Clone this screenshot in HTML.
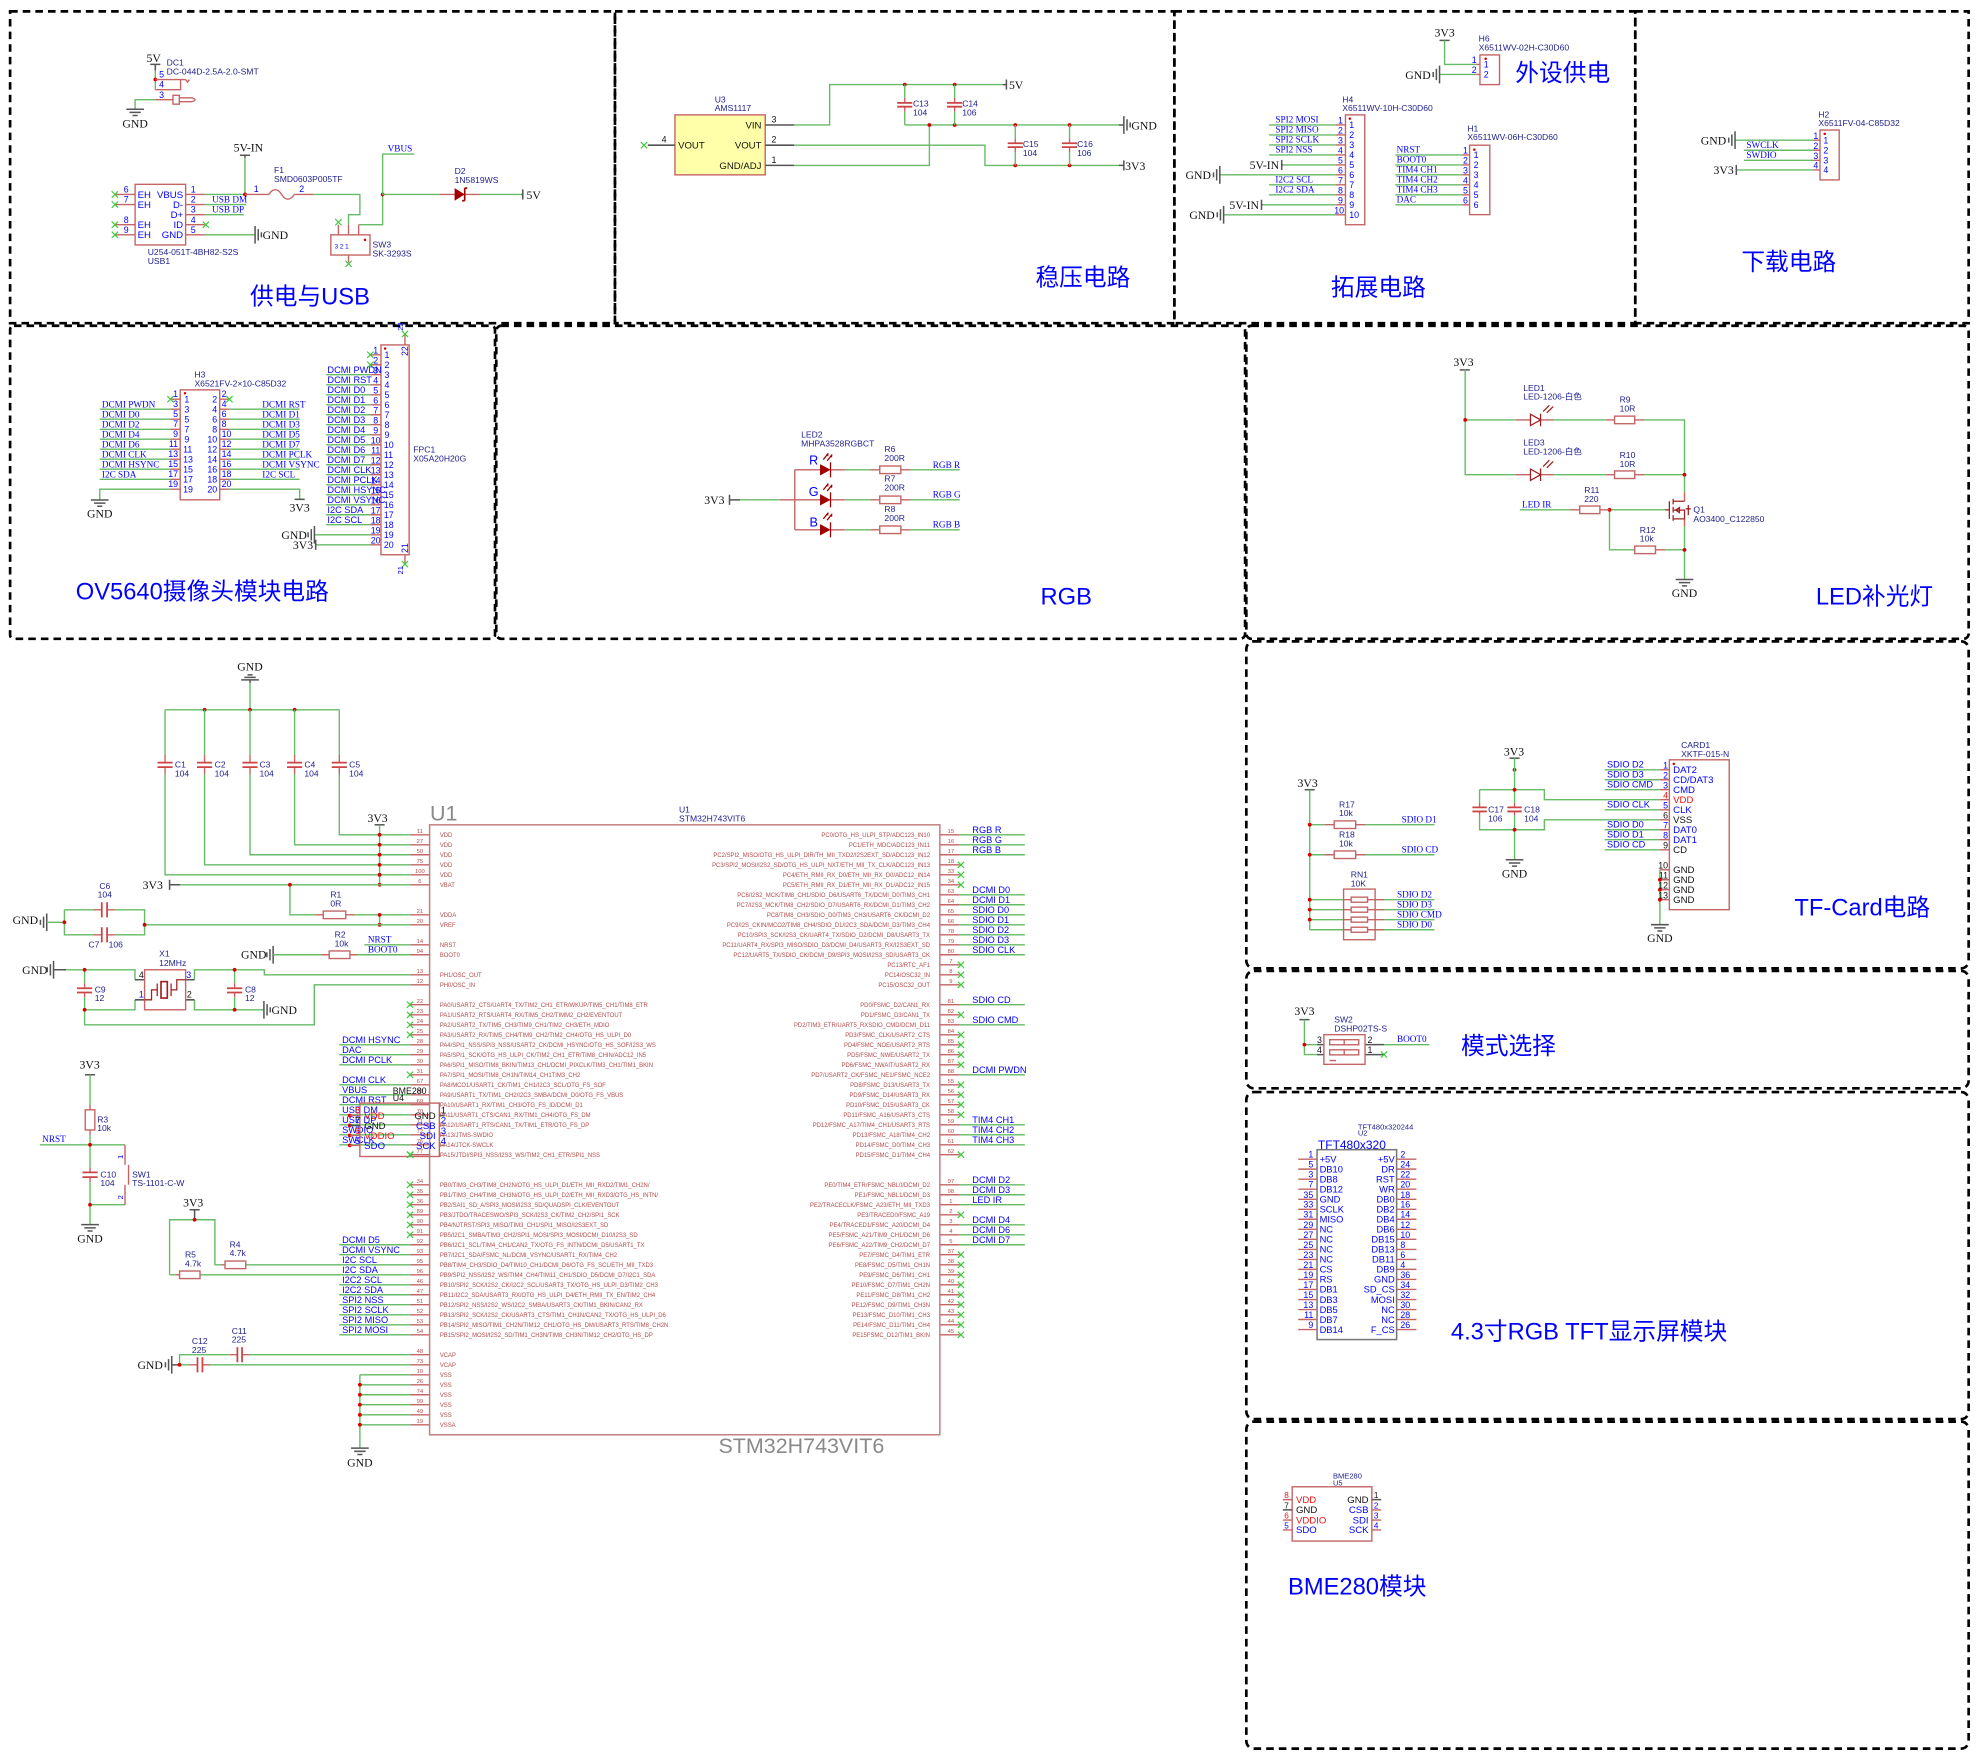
<!DOCTYPE html>
<html><head><meta charset="utf-8"><style>
html,body{margin:0;padding:0;background:#fff;}
svg{display:block}
text{font-family:"Liberation Sans","Noto Sans CJK SC",sans-serif;}
.n{font-family:"Liberation Serif","Noto Serif CJK SC",serif;font-size:7.3px;fill:#0000ff}
.d{font-size:6.8px;fill:#1e1e8c}
.pw{font-family:"Liberation Serif",serif;font-size:9.3px;fill:#111}
.pn{font-size:7px;fill:#0000ff}
.ti{font-size:18.8px;fill:#0000ff}
.f{font-size:4.7px;fill:#b24a4a}
.fe{font-size:4.7px;fill:#b24a4a;text-anchor:end}
.fn{font-size:4.6px;fill:#b24a4a;text-anchor:middle}
.ib{font-size:7.6px;fill:#0000ff}
.bk{font-size:7.6px;fill:#111}
.rd{font-size:7.6px;fill:#ee1111}
.w{stroke:#66bb66;stroke-width:1.1;fill:none}
.r{stroke:#c46464;stroke-width:1.1;fill:none}
.pl{stroke:#c44;stroke-width:1.4;fill:none}
.k{stroke:#555;stroke-width:1.2;fill:none}
.j{fill:#dd0000}
.fr{stroke:#000;stroke-width:2.1;fill:none;stroke-dasharray:6 4}
.e{text-anchor:end}
.m{text-anchor:middle}
</style></head><body>
<svg width="1980" height="1760" viewBox="0 0 1568 1394" preserveAspectRatio="none" xmlns="http://www.w3.org/2000/svg">
<defs><path id="X" d="M-2.5,-2.5L2.5,2.5M2.5,-2.5L-2.5,2.5" stroke="#33cc33" stroke-width="0.9" fill="none"/></defs>

<!-- FRAMES -->
<rect class="fr" x="8" y="9" width="479" height="247"/>
<rect class="fr" x="487" y="9" width="443" height="247"/>
<rect class="fr" x="930" y="9" width="365" height="247"/>
<rect class="fr" x="1295" y="9" width="264" height="247"/>
<rect class="fr" x="8" y="258" width="384" height="248" rx="3"/>
<rect class="fr" x="393" y="258" width="593" height="248" rx="4"/>
<rect class="fr" x="987" y="258" width="572" height="248" rx="4"/>
<rect class="fr" x="987" y="508" width="572" height="259" rx="6"/>
<rect class="fr" x="987" y="769" width="572" height="93" rx="6"/>
<rect class="fr" x="987" y="865" width="572" height="259" rx="6"/>
<rect class="fr" x="987" y="1126" width="572" height="259" rx="6"/>

<!-- TITLES -->
<text class="ti" x="198" y="241">供电与USB</text>
<text class="ti" x="820" y="226">稳压电路</text>
<text class="ti" x="1054" y="234">拓展电路</text>
<text class="ti" x="1379" y="214">下载电路</text>
<text class="ti" x="1200" y="64">外设供电</text>
<text class="ti" x="60" y="475">OV5640摄像头模块电路</text>
<text class="ti" x="824" y="479">RGB</text>
<text class="ti" x="1438" y="479">LED补光灯</text>
<text class="ti" x="1421" y="725">TF-Card电路</text>
<text class="ti" x="1157" y="835">模式选择</text>
<text class="ti" x="1149" y="1061">4.3寸RGB TFT显示屏模块</text>
<text class="ti" x="1020" y="1263">BME280模块</text>

<!-- ===== SECTION A ===== -->
<text class="pw" x="116" y="49">5V</text>
<path class="k" d="M119,51H127M123,51V56"/>
<path class="w" d="M123,56V71"/>
<circle class="j" cx="123" cy="63" r="1.5"/>
<path class="r" d="M123,63H147M143,63V71H123M147,63l1.5,2l1.5,-2"/>
<path class="w" d="M107,86V79H123"/>
<path class="r" d="M123,79H137M142,77.5H152Q157,79 152,80.5H142"/>
<rect class="r" x="137" y="75.5" width="5" height="7"/>
<text class="pn" x="126" y="61.5">5</text><text class="pn" x="126" y="69.5">4</text><text class="pn" x="126" y="77.5">3</text>
<path class="k" d="M100,86.5H114M102.5,89H111.5M105,91.5H109"/>
<text class="pw m" x="107" y="101">GND</text>
<text class="d" x="132" y="52">DC1</text><text class="d" x="132" y="59">DC-044D-2.5A-2.0-SMT</text>

<rect class="r" x="107" y="146" width="40" height="48"/>
<text class="ib" x="109" y="156.7">EH</text><text class="ib" x="109" y="164.7">EH</text><text class="ib" x="109" y="180.7">EH</text><text class="ib" x="109" y="188.7">EH</text>
<text class="ib e" x="145" y="156.7">VBUS</text><text class="ib e" x="145" y="164.7">D-</text><text class="ib e" x="145" y="172.7">D+</text><text class="ib e" x="145" y="180.7">ID</text><text class="ib e" x="145" y="188.7">GND</text>
<path class="r" d="M91,154H107M91,162H107M91,178H107M91,186H107M147,154H162M147,162H162M147,170H162M147,178H162M147,186H162"/>
<use href="#X" x="91" y="154"/><use href="#X" x="91" y="162"/><use href="#X" x="91" y="178"/><use href="#X" x="91" y="186"/><use href="#X" x="163" y="178"/>
<text class="pn m" x="100" y="152.5">6</text><text class="pn m" x="100" y="160.5">7</text><text class="pn m" x="100" y="176.5">8</text><text class="pn m" x="100" y="184.5">9</text>
<text class="pn m" x="153" y="152.5">1</text><text class="pn m" x="153" y="160.5">2</text><text class="pn m" x="153" y="168.5">3</text><text class="pn m" x="153" y="176.5">4</text><text class="pn m" x="153" y="184.5">5</text>
<path class="w" d="M162,154H194V125M162,162H195M162,170H193M162,186H202"/>
<path class="k" d="M190,123H198M194,123V125"/>
<text class="pw" x="185" y="120">5V-IN</text>
<circle class="j" cx="194" cy="154" r="1.5"/>
<text class="n" x="168" y="160.3">USB DM</text><text class="n" x="168" y="168.3">USB DP</text>
<path class="k" d="M202,179V193M204.5,181.5V190.5M207,184V188"/>
<text class="pw" x="208" y="189.5">GND</text>
<text class="d" x="117" y="202">U254-051T-4BH82-S2S</text><text class="d" x="117" y="209">USB1</text>
<path class="r" d="M194,154H213M233,154H248"/>
<path class="r" d="M213,154c3,-5 7,-5 10,0c3,5 7,5 10,0"/>
<text class="pn" x="201" y="152">1</text><text class="pn" x="237" y="152">2</text>
<text class="d" x="217" y="137">F1</text><text class="d" x="217" y="144">SMD0603P005TF</text>
<path class="w" d="M248,154H285V170H276V178M284,178H303V154"/>
<circle class="j" cx="303" cy="154" r="1.5"/>
<path class="w" d="M303,154V122H328M303,154H348M380,154H413"/>
<text class="n" x="307" y="120">VBUS</text>
<path class="r" d="M348,154H360M368,154H380"/>
<polygon points="360,149 360,159 368,154" fill="#a00000"/>
<path d="M368,149V159M368,149h2M368,159h-2" stroke="#a00000" stroke-width="1.3" fill="none"/>
<path class="k" d="M414,150V158M413,154H414"/>
<text class="pw" x="417" y="157.5">5V</text>
<text class="d" x="360" y="138">D2</text><text class="d" x="360" y="145">1N5819WS</text>
<rect class="r" x="262" y="186" width="31" height="16"/>
<path class="r" d="M268,178V186M276,178V186M284,178V186M276,202V208"/>
<use href="#X" x="268" y="176"/><use href="#X" x="276" y="209"/>
<circle class="j" cx="289" cy="190" r="1"/>
<text class="pn" x="265" y="197" style="font-size:5px">3 2 1</text>
<text class="d" x="295" y="196">SW3</text><text class="d" x="295" y="203">SK-3293S</text>

<!-- ===== SECTION B ===== -->
<rect x="534.5" y="91" width="71.5" height="47.5" fill="#ffffaa" stroke="#c46464" stroke-width="1.1"/>
<text class="d" x="566" y="81">U3</text><text class="d" x="566" y="88">AMS1117</text>
<path class="k" d="M513,115H534.5M606,99H629M606,115H629M606,131H629"/>
<use href="#X" x="510" y="115"/>
<text class="bk" x="524" y="113" style="font-size:7px">4</text>
<text class="bk" x="611" y="97" style="font-size:7px">3</text><text class="bk" x="611" y="113" style="font-size:7px">2</text><text class="bk" x="611" y="129" style="font-size:7px">1</text>
<text class="bk e" x="603" y="101.7">VIN</text><text class="bk" x="537" y="117.7">VOUT</text><text class="bk e" x="603" y="117.7">VOUT</text><text class="bk e" x="603" y="133.7">GND/ADJ</text>
<path class="w" d="M629,99H657V67H794M629,115H780V131H886M629,131H736V99M716.5,99H886"/>
<path class="k" d="M797,63V71M794,67H797"/><text class="pw" x="799" y="70.5">5V</text>
<path class="k" d="M886,99H890M890,92V106M892.5,94.5V103.5M895,97V101"/><text class="pw" x="896" y="102.5">GND</text>
<path class="k" d="M886,131H890M890,127V135"/><text class="pw" x="891" y="134.5">3V3</text>
<circle class="j" cx="716.5" cy="67" r="1.5"/><circle class="j" cx="756" cy="67" r="1.5"/><circle class="j" cx="736" cy="99" r="1.5"/><circle class="j" cx="756" cy="99" r="1.5"/><circle class="j" cx="804" cy="99" r="1.5"/><circle class="j" cx="847" cy="99" r="1.5"/><circle class="j" cx="804" cy="131" r="1.5"/><circle class="j" cx="847" cy="131" r="1.5"/>
<path class="w" d="M716.5,67V77.5M716.5,88.5V99M756,67V77.5M756,88.5V99M804,99V109.5M804,120.5V131M847,99V109.5M847,120.5V131"/>
<path class="r" d="M716.5,77.5V81.5M716.5,84.5V88.5M756,77.5V81.5M756,84.5V88.5M804,109.5V113.5M804,116.5V120.5M847,109.5V113.5M847,116.5V120.5"/>
<path class="pl" d="M710.5,81.5H722.5M710.5,84.5H722.5M750,81.5H762M750,84.5H762M798,113.5H810M798,116.5H810M841,113.5H853M841,116.5H853"/>
<text class="d" x="723" y="84.5">C13</text><text class="d" x="723" y="91.5">104</text>
<text class="d" x="762" y="84.5">C14</text><text class="d" x="762" y="91.5">106</text>
<text class="d" x="810" y="116.5">C15</text><text class="d" x="810" y="123.5">104</text>
<text class="d" x="853" y="116.5">C16</text><text class="d" x="853" y="123.5">106</text>

<!-- ===== SECTION C ===== -->
<text class="pw" x="1136" y="29">3V3</text>
<path class="k" d="M1140,32H1148"/>
<path class="w" d="M1144,32V51H1169M1140,59H1169"/>
<path class="r" d="M1169,51H1172M1169,59H1172"/>
<path class="k" d="M1140,52V66M1137.5,54.5V63.5M1135,57V61"/><text class="pw e" x="1133" y="62.5">GND</text>
<rect class="r" x="1172" y="43.5" width="15.5" height="23.5"/>
<circle class="j" cx="1176.5" cy="46.5" r="1"/>
<text class="pn" x="1175" y="53.5">1</text><text class="pn" x="1175" y="61.5">2</text>
<text class="pn" x="1165.5" y="50">1</text><text class="pn" x="1165.5" y="58">2</text>
<text class="d" x="1171" y="33">H6</text><text class="d" x="1171" y="40">X6511WV-02H-C30D60</text>

<rect class="r" x="1065.5" y="91" width="15.3" height="87"/>
<circle class="j" cx="1069" cy="94" r="1"/>
<text class="d" x="1063" y="81">H4</text><text class="d" x="1063" y="88">X6511WV-10H-C30D60</text>
<path class="w" d="M1005,99H1058M1005,106.9H1058M1005,114.8H1058M1005,122.7H1058M1016,130.6H1058M966,138.5H1058M1005,146.4H1058M1005,154.3H1058M1000,162.2H1058M969,170.1H1058"/>
<path class="r" d="M1058,99H1065.5M1058,106.9H1065.5M1058,114.8H1065.5M1058,122.7H1065.5M1058,130.6H1065.5M1058,138.5H1065.5M1058,146.4H1065.5M1058,154.3H1065.5M1058,162.2H1065.5M1058,170.1H1065.5"/>
<text class="n" x="1010" y="97.2">SPI2 MOSI</text><text class="n" x="1010" y="105.1">SPI2 MISO</text><text class="n" x="1010" y="113">SPI2 SCLK</text><text class="n" x="1010" y="120.9">SPI2 NSS</text><text class="n" x="1010" y="144.6">I2C2 SCL</text><text class="n" x="1010" y="152.5">I2C2 SDA</text>
<path class="k" d="M1015,126.6V134.6M1015,130.6H1016"/><text class="pw e" x="1013" y="133.8">5V-IN</text>
<path class="k" d="M966,131.5V145.5M963.5,134V143M961,136.5V140.5"/><text class="pw e" x="959" y="141.8">GND</text>
<path class="k" d="M999,158.2V166.2M999,162.2H1000"/><text class="pw e" x="997" y="165.4">5V-IN</text>
<path class="k" d="M969,163.1V177.1M966.5,165.6V174.6M964,168.1V172.1"/><text class="pw e" x="962" y="173.4">GND</text>
<text class="pn m" x="1061.5" y="98">1</text><text class="pn m" x="1061.5" y="105.9">2</text><text class="pn m" x="1061.5" y="113.8">3</text><text class="pn m" x="1061.5" y="121.7">4</text><text class="pn m" x="1061.5" y="129.6">5</text><text class="pn m" x="1061.5" y="137.5">6</text><text class="pn m" x="1061.5" y="145.4">7</text><text class="pn m" x="1061.5" y="153.3">8</text><text class="pn m" x="1061.5" y="161.2">9</text><text class="pn m" x="1060.5" y="169.1">10</text>
<text class="pn" x="1068.5" y="101.5">1</text><text class="pn" x="1068.5" y="109.4">2</text><text class="pn" x="1068.5" y="117.3">3</text><text class="pn" x="1068.5" y="125.2">4</text><text class="pn" x="1068.5" y="133.1">5</text><text class="pn" x="1068.5" y="141">6</text><text class="pn" x="1068.5" y="148.9">7</text><text class="pn" x="1068.5" y="156.8">8</text><text class="pn" x="1068.5" y="164.7">9</text><text class="pn" x="1068.5" y="172.6">10</text>

<rect class="r" x="1163.8" y="115" width="16" height="55"/>
<circle class="j" cx="1167.5" cy="118.5" r="1"/>
<text class="d" x="1162" y="104">H1</text><text class="d" x="1162" y="111">X6511WV-06H-C30D60</text>
<path class="w" d="M1105,122.7H1158M1105,130.6H1158M1105,138.5H1158M1105,146.4H1158M1105,154.3H1158M1105,162.2H1158"/>
<path class="r" d="M1158,122.7H1163.8M1158,130.6H1163.8M1158,138.5H1163.8M1158,146.4H1163.8M1158,154.3H1163.8M1158,162.2H1163.8"/>
<text class="n" x="1106" y="120.9">NRST</text><text class="n" x="1106" y="128.8">BOOT0</text><text class="n" x="1106" y="136.7">TIM4 CH1</text><text class="n" x="1106" y="144.6">TIM4 CH2</text><text class="n" x="1106" y="152.5">TIM4 CH3</text><text class="n" x="1106" y="160.4">DAC</text>
<text class="pn m" x="1160.5" y="121.7">1</text><text class="pn m" x="1160.5" y="129.6">2</text><text class="pn m" x="1160.5" y="137.5">3</text><text class="pn m" x="1160.5" y="145.4">4</text><text class="pn m" x="1160.5" y="153.3">5</text><text class="pn m" x="1160.5" y="161.2">6</text>
<text class="pn" x="1167" y="125.2">1</text><text class="pn" x="1167" y="133.1">2</text><text class="pn" x="1167" y="141">3</text><text class="pn" x="1167" y="148.9">4</text><text class="pn" x="1167" y="156.8">5</text><text class="pn" x="1167" y="164.7">6</text>

<!-- ===== SECTION D ===== -->
<rect class="r" x="1441.3" y="103" width="15.2" height="39.5"/>
<circle class="j" cx="1445" cy="106" r="1"/>
<text class="d" x="1440" y="93">H2</text><text class="d" x="1440" y="100">X6511FV-04-C85D32</text>
<path class="w" d="M1374,111H1436M1381,119H1436M1381,127H1436M1375,134.6H1436"/>
<path class="r" d="M1436,111H1441.3M1436,119H1441.3M1436,127H1441.3M1436,134.6H1441.3"/>
<path class="k" d="M1374,104V118M1371.5,106.5V115.5M1369,109V113"/><text class="pw e" x="1367" y="114.3">GND</text>
<path class="k" d="M1375,130.6V138.6"/><text class="pw e" x="1373" y="137.8">3V3</text>
<text class="n" x="1383" y="117.3">SWCLK</text><text class="n" x="1383" y="125.2">SWDIO</text>
<text class="pn m" x="1438" y="110">1</text><text class="pn m" x="1438" y="118">2</text><text class="pn m" x="1438" y="126">3</text><text class="pn m" x="1438" y="133.6">4</text>
<text class="pn" x="1444" y="113.5">1</text><text class="pn" x="1444" y="121.5">2</text><text class="pn" x="1444" y="129.5">3</text><text class="pn" x="1444" y="137.1">4</text>

<!-- ===== SECTION E (OV5640) ===== -->
<rect class="r" x="142.7" y="308.8" width="31.3" height="87.1"/>
<circle class="j" cx="146.5" cy="311.5" r="1"/>
<text class="d" x="154" y="299">H3</text><text class="d" x="154" y="306">X6521FV-2×10-C85D32</text>
<path class="r" d="M135,316.2H142.7M135,324.1H142.7M135,332H142.7M135,340H142.7M135,347.9H142.7M135,355.8H142.7M135,363.7H142.7M135,371.6H142.7M135,379.6H142.7M135,387.5H142.7M174,316.2H181.7M174,324.1H181.7M174,332H181.7M174,340H181.7M174,347.9H181.7M174,355.8H181.7M174,363.7H181.7M174,371.6H181.7M174,379.6H181.7M174,387.5H181.7"/>
<use href="#X" x="135" y="316.2"/><use href="#X" x="181.7" y="316.2"/>
<path class="w" d="M79,324.1H135M79,332H135M79,340H135M79,347.9H135M79,355.8H135M79,363.7H135M79,371.6H135M79,379.6H135M79,396V387.5H135M181.7,324.1H237.3M181.7,332H237.3M181.7,340H237.3M181.7,347.9H237.3M181.7,355.8H237.3M181.7,363.7H237.3M181.7,371.6H237.3M181.7,379.6H237.3M181.7,387.5H237.3V395"/>
<text class="n" x="80.7" y="322.6">DCMI PWDN</text><text class="n" x="80.7" y="330.5">DCMI D0</text><text class="n" x="80.7" y="338.5">DCMI D2</text><text class="n" x="80.7" y="346.4">DCMI D4</text><text class="n" x="80.7" y="354.3">DCMI D6</text><text class="n" x="80.7" y="362.2">DCMI CLK</text><text class="n" x="80.7" y="370.1">DCMI HSYNC</text><text class="n" x="80.7" y="378.1">I2C SDA</text>
<text class="n" x="207.7" y="322.6">DCMI RST</text><text class="n" x="207.7" y="330.5">DCMI D1</text><text class="n" x="207.7" y="338.5">DCMI D3</text><text class="n" x="207.7" y="346.4">DCMI D5</text><text class="n" x="207.7" y="354.3">DCMI D7</text><text class="n" x="207.7" y="362.2">DCMI PCLK</text><text class="n" x="207.7" y="370.1">DCMI VSYNC</text><text class="n" x="207.7" y="378.1">I2C SCL</text>
<path class="k" d="M72,396H86M74.5,398.5H83.5M77,401H81"/><text class="pw m" x="79" y="410">GND</text>
<path class="k" d="M233.3,395.5H241.3"/><text class="pw m" x="237.3" y="405">3V3</text>
<g class="pn">
<text class="e" x="141" y="314.5">1</text><text class="e" x="141" y="322.4">3</text><text class="e" x="141" y="330.3">5</text><text class="e" x="141" y="338.3">7</text><text class="e" x="141" y="346.2">9</text><text class="e" x="141" y="354.1">11</text><text class="e" x="141" y="362">13</text><text class="e" x="141" y="369.9">15</text><text class="e" x="141" y="377.9">17</text><text class="e" x="141" y="385.8">19</text>
<text x="146" y="318.7">1</text><text x="146" y="326.6">3</text><text x="146" y="334.5">5</text><text x="146" y="342.5">7</text><text x="146" y="350.4">9</text><text x="145" y="358.3">11</text><text x="145" y="366.2">13</text><text x="145" y="374.1">15</text><text x="145" y="382.1">17</text><text x="145" y="390">19</text>
<text class="e" x="172" y="318.7">2</text><text class="e" x="172" y="326.6">4</text><text class="e" x="172" y="334.5">6</text><text class="e" x="172" y="342.5">8</text><text class="e" x="172" y="350.4">10</text><text class="e" x="172" y="358.3">12</text><text class="e" x="172" y="366.2">14</text><text class="e" x="172" y="374.1">16</text><text class="e" x="172" y="382.1">18</text><text class="e" x="172" y="390">20</text>
<text x="175.5" y="314.5">2</text><text x="175.5" y="322.4">4</text><text x="175.5" y="330.3">6</text><text x="175.5" y="338.3">8</text><text x="175.5" y="346.2">10</text><text x="175.5" y="354.1">12</text><text x="175.5" y="362">14</text><text x="175.5" y="369.9">16</text><text x="175.5" y="377.9">18</text><text x="175.5" y="385.8">20</text>
</g>

<rect class="r" x="301.7" y="273.2" width="22.3" height="166.2"/>
<circle class="j" cx="305" cy="276" r="1"/>
<path class="r" d="M320.7,264.5V273.2M320.7,439.4V446.8"/>
<use href="#X" x="320.7" y="264.5"/><use href="#X" x="320.7" y="446.8"/>
<text class="pn" transform="translate(323,282) rotate(-90)">22</text>
<text class="pn" transform="translate(323,438) rotate(-90)">21</text>
<text class="pn" transform="translate(319,262) rotate(-90)" style="font-size:6px">22</text>
<text class="pn" transform="translate(319,455) rotate(-90)" style="font-size:6px">21</text>
<text class="d" x="327.3" y="358.5">FPC1</text><text class="d" x="327.3" y="365.5">X05A20H20G</text>
<path class="r" d="M293.3,281H301.7M293.3,288.9H301.7M293.3,296.8H301.7M293.3,304.8H301.7M293.3,312.7H301.7M293.3,320.6H301.7M293.3,328.5H301.7M293.3,336.4H301.7M293.3,344.4H301.7M293.3,352.3H301.7M293.3,360.2H301.7M293.3,368.1H301.7M293.3,376H301.7M293.3,384H301.7M293.3,391.9H301.7M293.3,399.8H301.7M293.3,407.7H301.7M293.3,415.6H301.7M293.3,423.6H301.7M293.3,431.5H301.7"/>
<use href="#X" x="293.3" y="281"/><use href="#X" x="293.3" y="288.9"/>
<path class="w" d="M258.3,296.8H293.3M258.3,304.8H293.3M258.3,312.7H293.3M258.3,320.6H293.3M258.3,328.5H293.3M258.3,336.4H293.3M258.3,344.4H293.3M258.3,352.3H293.3M258.3,360.2H293.3M258.3,368.1H293.3M258.3,376H293.3M258.3,384H293.3M258.3,391.9H293.3M258.3,399.8H293.3M258.3,407.7H293.3M258.3,415.6H293.3M249,423.6H293.3M250,431.5H293.3"/>
<g class="n">
<text x="259.3" y="295.3">DCMI PWDN</text><text x="259.3" y="303.3">DCMI RST</text><text x="259.3" y="311.2">DCMI D0</text><text x="259.3" y="319.1">DCMI D1</text><text x="259.3" y="327">DCMI D2</text><text x="259.3" y="334.9">DCMI D3</text><text x="259.3" y="342.9">DCMI D4</text><text x="259.3" y="350.8">DCMI D5</text><text x="259.3" y="358.7">DCMI D6</text><text x="259.3" y="366.6">DCMI D7</text><text x="259.3" y="374.5">DCMI CLK</text><text x="259.3" y="382.5">DCMI PCLK</text><text x="259.3" y="390.4">DCMI HSYNC</text><text x="259.3" y="398.3">DCMI VSYNC</text><text x="259.3" y="406.2">I2C SDA</text><text x="259.3" y="414.1">I2C SCL</text>
</g>
<path class="k" d="M249,416.6V430.6M246.5,419.1V428.1M244,421.6V425.6"/><text class="pw e" x="243" y="426.8">GND</text>
<path class="k" d="M250,427.5V435.5"/><text class="pw e" x="248" y="434.7">3V3</text>
<g class="pn">
<text class="m" x="297.5" y="280">1</text><text class="m" x="297.5" y="287.9">2</text><text class="m" x="297.5" y="295.8">3</text><text class="m" x="297.5" y="303.8">4</text><text class="m" x="297.5" y="311.7">5</text><text class="m" x="297.5" y="319.6">6</text><text class="m" x="297.5" y="327.5">7</text><text class="m" x="297.5" y="335.4">8</text><text class="m" x="297.5" y="343.4">9</text><text class="m" x="297.5" y="351.3">10</text><text class="m" x="297.5" y="359.2">11</text><text class="m" x="297.5" y="367.1">12</text><text class="m" x="297.5" y="375">13</text><text class="m" x="297.5" y="383">14</text><text class="m" x="297.5" y="390.9">15</text><text class="m" x="297.5" y="398.8">16</text><text class="m" x="297.5" y="406.7">17</text><text class="m" x="297.5" y="414.6">18</text><text class="m" x="297.5" y="422.6">19</text><text class="m" x="297.5" y="430.5">20</text>
<text x="304.5" y="283.5">1</text><text x="304.5" y="291.4">2</text><text x="304.5" y="299.3">3</text><text x="304.5" y="307.3">4</text><text x="304.5" y="315.2">5</text><text x="304.5" y="323.1">6</text><text x="304.5" y="331">7</text><text x="304.5" y="338.9">8</text><text x="304.5" y="346.9">9</text><text x="304" y="354.8">10</text><text x="304" y="362.7">11</text><text x="304" y="370.6">12</text><text x="304" y="378.5">13</text><text x="304" y="386.5">14</text><text x="304" y="394.4">15</text><text x="304" y="402.3">16</text><text x="304" y="410.2">17</text><text x="304" y="418.1">18</text><text x="304" y="426.1">19</text><text x="304" y="434">20</text>
</g>

<!-- ===== SECTION F (RGB) ===== -->
<text class="pw" x="557.7" y="399">3V3</text>
<path class="k" d="M577.7,391.9V399.9M577.7,395.9H586"/>
<path class="w" d="M586,395.9H617.7"/>
<path class="r" d="M617.7,395.9H649.4M629.4,372.1V419.6M629.4,372.1H649.4M629.4,419.6H649.4M657.7,372.1H669.4M657.7,395.9H669.4M657.7,419.6H669.4M689.4,372.1H696.7M713.4,372.1H721M689.4,395.9H696.7M713.4,395.9H721M689.4,419.6H696.7M713.4,419.6H721"/>
<path class="w" d="M669.4,372.1H689.4M669.4,395.9H689.4M669.4,419.6H689.4M721,372.1H760M721,395.9H760M721,419.6H760"/>
<polygon points="649.4,367.6 649.4,376.6 657.7,372.1" fill="#a00000"/>
<polygon points="649.4,391.4 649.4,400.4 657.7,395.9" fill="#a00000"/>
<polygon points="649.4,415.1 649.4,424.1 657.7,419.6" fill="#a00000"/>
<path d="M657.7,366.1V378.1M657.7,389.9V401.9M657.7,413.6V425.6M652,364l4,-5M655,365l4,-5M652,388l4,-5M655,389l4,-5M652,411l4,-5M655,412l4,-5" stroke="#a00000" stroke-width="1" fill="none"/>
<path d="M656,359l0,2.5l-2,-1zM659,360l0,2.5l-2,-1zM656,383l0,2.5l-2,-1zM659,384l0,2.5l-2,-1zM656,406l0,2.5l-2,-1zM659,407l0,2.5l-2,-1z" fill="#a00000"/>
<rect class="r" x="696.7" y="369.1" width="16.7" height="6"/><rect class="r" x="696.7" y="392.9" width="16.7" height="6"/><rect class="r" x="696.7" y="416.6" width="16.7" height="6"/>
<text class="ib m" x="644.4" y="368" style="font-size:10px">R</text><text class="ib m" x="644.4" y="393" style="font-size:10px">G</text><text class="ib m" x="644.4" y="417" style="font-size:10px">B</text>
<text class="d" x="634.4" y="346.5">LED2</text><text class="d" x="634.4" y="353.5">MHPA3528RGBCT</text>
<text class="d" x="700.4" y="358">R6</text><text class="d" x="700.4" y="365">200R</text>
<text class="d" x="700.4" y="381.5">R7</text><text class="d" x="700.4" y="388.5">200R</text>
<text class="d" x="700.4" y="405.5">R8</text><text class="d" x="700.4" y="412.5">200R</text>
<text class="n" x="738.7" y="370.5">RGB R</text><text class="n" x="738.7" y="394.2">RGB G</text><text class="n" x="738.7" y="418">RGB B</text>

<!-- ===== SECTION G (LED) ===== -->
<text class="pw m" x="1159" y="290">3V3</text>
<path class="k" d="M1156,293H1164"/>
<path class="w" d="M1160.3,293V376H1200.3M1160.3,332.6H1200.3M1230.3,332.6H1272M1302,332.6H1334V390M1230.3,376H1272M1302,376H1334M1203.6,403.8H1243.6M1274.6,403.8H1318.6M1274.6,403.8V435.5H1294.6M1318.6,435.5H1334M1334,417V459"/>
<circle class="j" cx="1160.3" cy="332.6" r="1.5"/><circle class="j" cx="1334" cy="376" r="1.5"/><circle class="j" cx="1274.6" cy="403.8" r="1.5"/><circle class="j" cx="1334" cy="435.5" r="1.5"/>
<path class="r" d="M1200.3,332.6H1212M1220,332.6H1230.3M1272,332.6H1278.6M1294.6,332.6H1302M1200.3,376H1212M1220,376H1230.3M1272,376H1278.6M1294.6,376H1302M1243.6,403.8H1251M1267,403.8H1274.6M1311,435.5H1318.6M1334,390V397M1334,411V417"/>
<rect class="r" x="1278.6" y="329.6" width="16" height="6"/><rect class="r" x="1278.6" y="373" width="16" height="6"/><rect class="r" x="1251" y="400.8" width="16" height="6"/><rect class="r" x="1294.6" y="432.5" width="16.4" height="6"/>
<path d="M1212,328.1V337.1L1220,332.6ZM1220,327.6V337.6M1212,371.5V380.5L1220,376ZM1220,371V381M1222,326l5,-5M1225,327l5,-5M1222,369.5l5,-5M1225,370.5l5,-5" stroke="#a02020" stroke-width="1" fill="none"/>
<path d="M1318.6,403.8H1322M1322,397V411M1325,395V399.5M1325,401.5V406M1325,408V412.5M1325,397H1334M1325,411H1334M1325,404H1334V411M1327,404l3,-2v4zM1337,400V408M1335,403h4" stroke="#a02020" stroke-width="1" fill="none"/>
<path class="k" d="M1327,459H1341M1329.5,461.5H1338.5M1332,464H1336"/><text class="pw m" x="1334" y="473">GND</text>
<text class="n" x="1205.3" y="401.8">LED IR</text>
<text class="d" x="1206.3" y="309.5">LED1</text><text class="d" x="1206.3" y="316.5">LED-1206-白色</text>
<text class="d" x="1282.6" y="319">R9</text><text class="d" x="1282.6" y="326">10R</text>
<text class="d" x="1206.3" y="353">LED3</text><text class="d" x="1206.3" y="360">LED-1206-白色</text>
<text class="d" x="1282.6" y="362.8">R10</text><text class="d" x="1282.6" y="369.8">10R</text>
<text class="d" x="1254.6" y="390.5">R11</text><text class="d" x="1254.6" y="397.5">220</text>
<text class="d" x="1341" y="406">Q1</text><text class="d" x="1341" y="413.5">AO3400_C122850</text>
<text class="d" x="1298.6" y="422">R12</text><text class="d" x="1298.6" y="429">10k</text>

<!-- ===== SECTION H (TF) ===== -->
<text class="pw" x="1027.5" y="623.3">3V3</text>
<path class="k" d="M1033.2,625.5H1041.2"/>
<path class="w" d="M1037.2,625.5V736.4M1037.2,653.2H1049M1081,653.2H1136M1037.2,677H1049M1081,677H1136M1037.2,712.6H1064M1037.2,720.5H1064M1037.2,728.4H1064M1037.2,736.4H1064M1096,712.6H1136M1096,720.5H1136M1096,728.4H1136M1096,736.4H1136"/>
<circle class="j" cx="1037.2" cy="653.2" r="1.5"/><circle class="j" cx="1037.2" cy="677" r="1.5"/><circle class="j" cx="1037.2" cy="712.6" r="1.5"/><circle class="j" cx="1037.2" cy="720.5" r="1.5"/><circle class="j" cx="1037.2" cy="728.4" r="1.5"/>
<path class="r" d="M1049,653.2H1056.6M1073.5,653.2H1081M1049,677H1056.6M1073.5,677H1081M1064,712.6H1070M1083,712.6H1096M1064,720.5H1070M1083,720.5H1096M1064,728.4H1070M1083,728.4H1096M1064,736.4H1070M1083,736.4H1096"/>
<rect class="r" x="1056.6" y="650.2" width="17" height="6"/><rect class="r" x="1056.6" y="674" width="17" height="6"/>
<rect class="r" x="1064" y="704.2" width="25" height="40.1"/>
<rect class="r" x="1070" y="710.6" width="13" height="4"/><rect class="r" x="1070" y="718.5" width="13" height="4"/><rect class="r" x="1070" y="726.4" width="13" height="4"/><rect class="r" x="1070" y="734.4" width="13" height="4"/>
<text class="n" x="1110" y="651.3">SDIO D1</text><text class="n" x="1110" y="675.1">SDIO CD</text>
<text class="n" x="1106.3" y="711">SDIO D2</text><text class="n" x="1106.3" y="718.9">SDIO D3</text><text class="n" x="1106.3" y="726.8">SDIO CMD</text><text class="n" x="1106.3" y="734.8">SDIO D0</text>
<text class="d" x="1060.4" y="639.5">R17</text><text class="d" x="1060.4" y="646.5">10k</text>
<text class="d" x="1060.4" y="663.5">R18</text><text class="d" x="1060.4" y="670.5">10k</text>
<text class="d" x="1069.7" y="695">RN1</text><text class="d" x="1069.7" y="702">10K</text>

<text class="pw m" x="1199" y="598.5">3V3</text>
<path class="k" d="M1195.4,600.5H1203.4"/>
<circle class="j" cx="1199.4" cy="609.7" r="1.5"/>
<path class="w" d="M1199.4,600.5V636M1199.4,646V681M1171.7,625.5H1223V633.4H1314.5M1171.7,625.5V636M1171.7,646V657.2H1223V649.3H1314.5"/>
<path class="r" d="M1171.7,636V639.5M1171.7,642.7V646M1199.4,636V639.5M1199.4,642.7V646"/>
<path class="pl" d="M1166,639.5H1177.4M1166,642.7H1177.4M1193.7,639.5H1205.1M1193.7,642.7H1205.1"/>
<circle class="j" cx="1199.4" cy="625.5" r="1.5"/><circle class="j" cx="1199.4" cy="657.2" r="1.5"/>
<path class="k" d="M1192.4,681H1206.4M1194.9,683.5H1203.9M1197.4,686H1201.4"/><text class="pw m" x="1199.4" y="695">GND</text>
<text class="d" x="1178.5" y="643.5">C17</text><text class="d" x="1178.5" y="650.5">106</text>
<text class="d" x="1207" y="643.5">C18</text><text class="d" x="1207" y="650.5">104</text>

<rect class="r" x="1322" y="601.8" width="47.4" height="118.7"/>
<circle class="j" cx="1325.5" cy="605" r="1"/>
<text class="d" x="1331.3" y="592.5">CARD1</text><text class="d" x="1331.3" y="599.5">XKTF-015-N</text>
<path class="r" d="M1314.5,609.7H1322M1314.5,617.6H1322M1314.5,625.5H1322M1314.5,633.4H1322M1314.5,641.4H1322M1314.5,649.3H1322M1314.5,657.2H1322M1314.5,665.1H1322M1314.5,673.1H1322M1314.5,688.9H1322M1314.5,696.8H1322M1314.5,704.7H1322M1314.5,712.6H1322"/>
<path class="w" d="M1270.8,609.7H1314.5M1270.8,617.6H1314.5M1270.8,625.5H1314.5M1270.8,641.4H1314.5M1270.8,657.2H1314.5M1270.8,665.1H1314.5M1270.8,673.1H1314.5M1314.5,688.9V732.4"/>
<circle class="j" cx="1314.5" cy="696.8" r="1.5"/><circle class="j" cx="1314.5" cy="704.7" r="1.5"/><circle class="j" cx="1314.5" cy="712.6" r="1.5"/>
<path class="k" d="M1307.5,732.4H1321.5M1310,734.9H1319M1312.5,737.4H1316.5"/><text class="pw m" x="1314.5" y="746">GND</text>
<g class="n"><text x="1272.6" y="608">SDIO D2</text><text x="1272.6" y="615.9">SDIO D3</text><text x="1272.6" y="623.8">SDIO CMD</text><text x="1272.6" y="639.7">SDIO CLK</text><text x="1272.6" y="655.5">SDIO D0</text><text x="1272.6" y="663.4">SDIO D1</text><text x="1272.6" y="671.4">SDIO CD</text></g>
<g class="pn"><text class="e" x="1321" y="608.7">1</text><text class="e" x="1321" y="616.6">2</text><text class="e" x="1321" y="624.5">3</text><text class="e" x="1321" y="632.4" style="fill:#e11">4</text><text class="e" x="1321" y="640.4">5</text><text class="e" x="1321" y="648.3" style="fill:#111">6</text><text class="e" x="1321" y="656.2">7</text><text class="e" x="1321" y="664.1">8</text><text class="e" x="1321" y="672.1" style="fill:#111">9</text><text class="e" x="1321" y="687.9" style="fill:#111">10</text><text class="e" x="1321" y="695.8" style="fill:#111">11</text><text class="e" x="1321" y="703.7" style="fill:#111">12</text><text class="e" x="1321" y="711.6" style="fill:#111">13</text></g>
<text class="ib" x="1325" y="612.3">DAT2</text><text class="ib" x="1325" y="620.2">CD/DAT3</text><text class="ib" x="1325" y="628.1">CMD</text><text class="rd" x="1325" y="636">VDD</text><text class="ib" x="1325" y="644">CLK</text><text class="bk" x="1325" y="651.9">VSS</text><text class="ib" x="1325" y="659.8">DAT0</text><text class="ib" x="1325" y="667.7">DAT1</text><text class="bk" x="1325" y="675.7">CD</text>
<text class="bk" x="1325" y="691.5">GND</text><text class="bk" x="1325" y="699.4">GND</text><text class="bk" x="1325" y="707.3">GND</text><text class="bk" x="1325" y="715.2">GND</text>

<!-- ===== SECTION I (mode) ===== -->
<text class="pw" x="1025" y="804">3V3</text>
<path class="k" d="M1029,807.6H1037"/>
<path class="w" d="M1033,807.6V835.3H1043M1033,827.4H1043M1096,827.4H1132"/>
<circle class="j" cx="1033" cy="827.4" r="1.5"/>
<path class="k" d="M1043,827.4H1048.4M1043,835.3H1048.4M1081,827.4H1096M1081,835.3H1096"/>
<use href="#X" x="1096" y="835.3"/>
<rect class="r" x="1048.4" y="819.5" width="32.6" height="23.5"/>
<rect class="r" x="1053" y="823.5" width="23" height="4"/><rect class="r" x="1053" y="831.5" width="23" height="4"/>
<path class="r" d="M1064.5,823.5V827.5M1064.5,831.5V835.5M1053,840H1058"/>
<text class="bk" x="1043" y="826" style="font-size:7px">3</text><text class="bk" x="1043" y="834" style="font-size:7px">4</text>
<text class="bk" x="1083" y="826" style="font-size:7px">2</text><text class="bk" x="1083" y="834" style="font-size:7px">1</text>
<text class="n" x="1106.3" y="825.5">BOOT0</text>
<text class="d" x="1056.6" y="810">SW2</text><text class="d" x="1056.6" y="817">DSHP02TS-S</text>

<!-- ===== SECTION J (TFT) ===== -->
<text class="d" x="1075.3" y="894.5" style="font-size:6px">TFT480x320244</text><text class="d" x="1075.3" y="899.5" style="font-size:6px">U2</text>
<text class="ib" x="1043.7" y="910" style="font-size:9.5px">TFT480x320</text>
<rect x="1043" y="910.6" width="63" height="150.4" fill="none" stroke="#777" stroke-width="1.2"/>
<path class="r" d="M1028.1,918.1H1043M1028.1,926H1043M1028.1,934H1043M1028.1,941.9H1043M1028.1,949.9H1043M1028.1,957.8H1043M1028.1,965.7H1043M1028.1,973.7H1043M1028.1,981.6H1043M1028.1,989.6H1043M1028.1,997.5H1043M1028.1,1005.4H1043M1028.1,1013.4H1043M1028.1,1021.3H1043M1028.1,1029.3H1043M1028.1,1037.2H1043M1028.1,1045.1H1043M1028.1,1053.1H1043M1106.1,918.1H1121.7M1106.1,926H1121.7M1106.1,934H1121.7M1106.1,941.9H1121.7M1106.1,949.9H1121.7M1106.1,957.8H1121.7M1106.1,965.7H1121.7M1106.1,973.7H1121.7M1106.1,981.6H1121.7M1106.1,989.6H1121.7M1106.1,997.5H1121.7M1106.1,1005.4H1121.7M1106.1,1013.4H1121.7M1106.1,1021.3H1121.7M1106.1,1029.3H1121.7M1106.1,1037.2H1121.7M1106.1,1045.1H1121.7M1106.1,1053.1H1121.7"/>
<g class="pn">
<text class="e" x="1040" y="916.9">1</text><text class="e" x="1040" y="924.8">5</text><text class="e" x="1040" y="932.8">3</text><text class="e" x="1040" y="940.7">7</text><text class="e" x="1040" y="948.7">35</text><text class="e" x="1040" y="956.6">33</text><text class="e" x="1040" y="964.5">31</text><text class="e" x="1040" y="972.5">29</text><text class="e" x="1040" y="980.4">27</text><text class="e" x="1040" y="988.4">25</text><text class="e" x="1040" y="996.3">23</text><text class="e" x="1040" y="1004.2">21</text><text class="e" x="1040" y="1012.2">19</text><text class="e" x="1040" y="1020.1">17</text><text class="e" x="1040" y="1028.1">15</text><text class="e" x="1040" y="1036">13</text><text class="e" x="1040" y="1043.9">11</text><text class="e" x="1040" y="1051.9">9</text>
<text x="1109" y="916.9">2</text><text x="1109" y="924.8">24</text><text x="1109" y="932.8">22</text><text x="1109" y="940.7">20</text><text x="1109" y="948.7">18</text><text x="1109" y="956.6">16</text><text x="1109" y="964.5">14</text><text x="1109" y="972.5">12</text><text x="1109" y="980.4">10</text><text x="1109" y="988.4">8</text><text x="1109" y="996.3">6</text><text x="1109" y="1004.2">4</text><text x="1109" y="1012.2">36</text><text x="1109" y="1020.1">34</text><text x="1109" y="1028.1">32</text><text x="1109" y="1036">30</text><text x="1109" y="1043.9">28</text><text x="1109" y="1051.9">26</text>
</g>
<g class="ib" style="font-size:7.4px">
<text x="1045" y="920.7">+5V</text><text x="1045" y="928.6">DB10</text><text x="1045" y="936.6">DB8</text><text x="1045" y="944.5">DB12</text><text x="1045" y="952.5">GND</text><text x="1045" y="960.4">SCLK</text><text x="1045" y="968.3">MISO</text><text x="1045" y="976.3">NC</text><text x="1045" y="984.2">NC</text><text x="1045" y="992.2">NC</text><text x="1045" y="1000.1">NC</text><text x="1045" y="1008">CS</text><text x="1045" y="1016">RS</text><text x="1045" y="1023.9">DB1</text><text x="1045" y="1031.9">DB3</text><text x="1045" y="1039.8">DB5</text><text x="1045" y="1047.7">DB7</text><text x="1045" y="1055.7">DB14</text>
<text class="e" x="1104.5" y="920.7">+5V</text><text class="e" x="1104.5" y="928.6">DR</text><text class="e" x="1104.5" y="936.6">RST</text><text class="e" x="1104.5" y="944.5">WR</text><text class="e" x="1104.5" y="952.5">DB0</text><text class="e" x="1104.5" y="960.4">DB2</text><text class="e" x="1104.5" y="968.3">DB4</text><text class="e" x="1104.5" y="976.3">DB6</text><text class="e" x="1104.5" y="984.2">DB15</text><text class="e" x="1104.5" y="992.2">DB13</text><text class="e" x="1104.5" y="1000.1">DB11</text><text class="e" x="1104.5" y="1008">DB9</text><text class="e" x="1104.5" y="1016">GND</text><text class="e" x="1104.5" y="1023.9">SD_CS</text><text class="e" x="1104.5" y="1031.9">MOSI</text><text class="e" x="1104.5" y="1039.8">NC</text><text class="e" x="1104.5" y="1047.7">NC</text><text class="e" x="1104.5" y="1055.7">F_CS</text>
</g>

<!-- ===== SECTION K (BME280 U5) ===== -->
<text class="d" x="1055.6" y="1171" style="font-size:6px">BME280</text><text class="d" x="1055.6" y="1176.5" style="font-size:6px">U5</text>
<rect class="r" x="1023.3" y="1177.6" width="63.1" height="43"/>
<path class="r" d="M1015.9,1187.8H1023.3M1015.9,1204H1023.3M1015.9,1211.8H1023.3M1086.4,1195.9H1093.8M1086.4,1204H1093.8M1086.4,1211.8H1093.8"/>
<path class="k" d="M1015.9,1195.9H1023.3M1086.4,1187.8H1093.8"/>
<text class="rd" x="1017" y="1186.6" style="font-size:6.5px">8</text><text class="bk" x="1017" y="1194.7" style="font-size:6.5px">7</text><text class="rd" x="1017" y="1202.8" style="font-size:6.5px">6</text><text class="ib" x="1017" y="1210.6" style="font-size:6.5px">5</text>
<text class="bk" x="1088" y="1186.6" style="font-size:6.5px">1</text><text class="ib" x="1088" y="1194.7" style="font-size:6.5px">2</text><text class="ib" x="1088" y="1202.8" style="font-size:6.5px">3</text><text class="ib" x="1088" y="1210.6" style="font-size:6.5px">4</text>
<text class="rd" x="1026.3" y="1190.4">VDD</text><text class="bk" x="1026.3" y="1198.5">GND</text><text class="rd" x="1026.3" y="1206.6">VDDIO</text><text class="ib" x="1026.3" y="1214.4">SDO</text>
<text class="bk e" x="1083.8" y="1190.4">GND</text><text class="ib e" x="1083.8" y="1198.5">CSB</text><text class="ib e" x="1083.8" y="1206.6">SDI</text><text class="ib e" x="1083.8" y="1214.4">SCK</text>

<!-- ===== U1 SECTION ===== -->
<text class="pw m" x="198" y="531">GND</text>
<path class="k" d="M196,534.5H200M193.5,536.5H202.5M191,538.5H205M198,538.5V541"/>
<path class="w" d="M198,541V562.2M130.7,562.2H268.7"/>
<circle class="j" cx="162" cy="562.2" r="1.5"/><circle class="j" cx="198" cy="562.2" r="1.5"/><circle class="j" cx="233.3" cy="562.2" r="1.5"/>
<path class="w" d="M130.7,562.2V598M130.7,613V692.9H325.2M162,562.2V598M162,613V685H325.2M198,562.2V598M198,613V677H325.2M233.3,562.2V598M233.3,613V669.1H325.2M268.7,562.2V598M268.7,613V661.2H325.2"/>
<path class="r" d="M130.7,598V604M130.7,607.6V613M162,598V604M162,607.6V613M198,598V604M198,607.6V613M233.3,598V604M233.3,607.6V613M268.7,598V604M268.7,607.6V613"/>
<path class="pl" d="M124.7,604H136.7M124.7,607.6H136.7M156,604H168M156,607.6H168M192,604H204M192,607.6H204M227.3,604H239.3M227.3,607.6H239.3M262.7,604H274.7M262.7,607.6H274.7"/>
<text class="d" x="138.5" y="608">C1</text><text class="d" x="138.5" y="615">104</text>
<text class="d" x="170" y="608">C2</text><text class="d" x="170" y="615">104</text>
<text class="d" x="205.5" y="608">C3</text><text class="d" x="205.5" y="615">104</text>
<text class="d" x="241" y="608">C4</text><text class="d" x="241" y="615">104</text>
<text class="d" x="276.5" y="608">C5</text><text class="d" x="276.5" y="615">104</text>
<text class="pw m" x="299" y="651">3V3</text>
<path class="k" d="M296.6,653.3H304.6"/>
<path class="w" d="M300.6,653.3V700.8M300.6,724.6V732.5"/>
<circle class="j" cx="300.6" cy="661.2" r="1.5"/><circle class="j" cx="300.6" cy="669.1" r="1.5"/><circle class="j" cx="300.6" cy="677" r="1.5"/><circle class="j" cx="300.6" cy="685" r="1.5"/><circle class="j" cx="300.6" cy="692.9" r="1.5"/><circle class="j" cx="300.6" cy="700.8" r="1.5"/>
<text class="pw" x="113" y="704">3V3</text>
<path class="k" d="M134.3,696.8V704.8M134.3,700.8H142.8"/>
<path class="w" d="M142.8,700.8H325.2M229.6,700.8V724.6H250.3M280.8,724.6H325.2"/>
<circle class="j" cx="229.6" cy="700.8" r="1.5"/><circle class="j" cx="300.6" cy="724.6" r="1.5"/><circle class="j" cx="300.6" cy="732.5" r="1.5"/>
<path class="r" d="M250.3,724.6H256M273.8,724.6H280.8"/><rect class="r" x="256" y="721.6" width="17.8" height="6"/>
<text class="d" x="261.6" y="711">R1</text><text class="d" x="261.6" y="718">0R</text>
<!-- C6 C7 -->
<text class="pw" x="10" y="731.8">GND</text>
<path class="k" d="M37,723.5V737.5M34.5,726V735M32,728.5V732.5"/>
<path class="w" d="M37,730.5H51M51,720.6H74M91,720.6H114.5V740.4H91M74,740.4H51V720.6M114.5,732.5H325.2"/>
<path class="r" d="M74,720.6H80.6M84.8,720.6H91M74,740.4H80.6M84.8,740.4H91"/>
<path class="pl" d="M80.6,714.6V726.6M84.8,714.6V726.6M80.6,734.4V746.4M84.8,734.4V746.4"/>
<circle class="j" cx="51" cy="730.5" r="1.5"/><circle class="j" cx="114.5" cy="732.5" r="1.5"/>
<text class="d m" x="83" y="704">C6</text><text class="d m" x="83" y="711">104</text>
<text class="d" x="70" y="750.5">C7</text><text class="d" x="86" y="750.5">106</text>
<!-- R2 NRST BOOT0 -->
<text class="pw e" x="211" y="759.3">GND</text>
<path class="k" d="M216.3,749.2V763.2M213.8,751.7V760.7M211.3,754.2V758.2"/>
<path class="w" d="M216.3,756.2H254.5M283,756.2H325.2M288.5,748.3H325.2"/>
<path class="r" d="M254.5,756.2H260.7M277.1,756.2H283"/><rect class="r" x="260.7" y="753.2" width="16.4" height="6"/>
<text class="d" x="265" y="742.5">R2</text><text class="d" x="265" y="749.5">10k</text>
<text class="n" x="291.3" y="746.5">NRST</text><text class="n" x="291.3" y="754.5">BOOT0</text>
<!-- Crystal -->
<text class="pw" x="17.5" y="771.3">GND</text>
<path class="k" d="M42.4,761.1V775.1M39.9,763.6V772.6M37.4,766.1V770.1M42.4,768.1H52.3"/>
<path class="w" d="M52.3,768.1H106.9V776M67,768.1V778.7M67,790V811.7H248.9V780H325.2M67,799.8H106.9V791.9M154,776V768.1H209.3V772.1H325.2M185.8,768.1V778.7M185.8,790V799.8M154,791.9V799.8H209"/>
<path class="k" d="M106.9,776H114.5M106.9,791.9H114.5M147,776H154M147,791.9H154"/>
<path class="r" d="M67,778.7V782.7M67,786.1V790M185.8,778.7V782.7M185.8,786.1V790"/>
<path class="pl" d="M61,782.7H73M61,786.1H73M179.8,782.7H191.8M179.8,786.1H191.8"/>
<circle class="j" cx="67" cy="768.1" r="1.5"/><circle class="j" cx="67" cy="799.8" r="1.5"/><circle class="j" cx="185.8" cy="768.1" r="1.5"/><circle class="j" cx="185.8" cy="799.8" r="1.5"/>
<rect class="r" x="114.5" y="768.1" width="32.5" height="31.7"/>
<rect x="127.5" y="777.5" width="5" height="13" fill="none" stroke="#a02020" stroke-width="1.3"/>
<path d="M124.5,779V789M135.5,779V789M114.5,791.9H120V784H124.5M135.5,784H140V776H147" stroke="#a02020" stroke-width="1" fill="none"/>
<text class="bk" x="110" y="774.5" style="font-size:7px">4</text><text class="pn" x="147.5" y="774.5">3</text><text class="pn" x="110" y="790">1</text><text class="bk" x="148" y="790" style="font-size:7px">2</text>
<path class="k" d="M209,792.8V806.8M211.5,795.3V804.3M214,797.8V801.8"/><text class="pw" x="215" y="803">GND</text>
<text class="d" x="126" y="757.5">X1</text><text class="d" x="126" y="765">12MHz</text>
<text class="d" x="75" y="786">C9</text><text class="d" x="75" y="793">12</text>
<text class="d" x="194" y="786">C8</text><text class="d" x="194" y="793">12</text>
<!-- R3 C10 SW1 -->
<text class="pw m" x="71" y="846.5">3V3</text>
<path class="k" d="M67.3,851.3H75.3"/>
<path class="w" d="M71.3,851.3V875M71.3,899V924.6M71.3,936.3V970M31.7,906.7H99M99,954.2H71.3"/>
<path class="r" d="M71.3,875V879M71.3,895V899M71.3,924.6V928.6M71.3,932.3V936.3M99,906.7V922.6M99,938.4V954.2M101.8,922.6V938.4"/>
<rect class="r" x="67.5" y="879" width="7.6" height="16"/>
<path class="pl" d="M65.3,928.6H77.3M65.3,932.3H77.3"/>
<circle class="j" cx="71.3" cy="906.7" r="1.5"/><circle class="j" cx="71.3" cy="954.2" r="1.5"/>
<path class="k" d="M64.3,970H78.3M66.8,972.5H75.8M69.3,975H73.3"/><text class="pw m" x="71.3" y="984">GND</text>
<text class="n" x="33.4" y="904.5">NRST</text>
<text class="pn" transform="translate(97.5,918) rotate(-90)" style="font-size:6px">1</text>
<text class="pn" transform="translate(97.5,950) rotate(-90)" style="font-size:6px">2</text>
<text class="d" x="77" y="889">R3</text><text class="d" x="77" y="896">10k</text>
<text class="d" x="79.5" y="932.5">C10</text><text class="d" x="79.5" y="939.5">104</text>
<text class="d" x="104.6" y="932.5">SW1</text><text class="d" x="104.6" y="939.5">TS-1101-C-W</text>
<!-- R4 R5 -->
<text class="pw m" x="153" y="955.5">3V3</text>
<path class="k" d="M150.1,958.2H158.1M154.1,958.2V966.1"/>
<path class="w" d="M134.3,1009.7V966.1H170.2V1001.8H175M194.6,1001.8H325.2M134.3,1009.7H139M158.4,1009.7H325.2"/>
<path class="r" d="M175,1001.8H178.2M139,1009.7H142.2"/>
<circle class="j" cx="154.1" cy="966.1" r="1.5"/>
<rect class="r" x="178.2" y="998.8" width="16.4" height="6"/><rect class="r" x="142.2" y="1006.7" width="16.2" height="6"/>
<text class="d" x="181.8" y="988">R4</text><text class="d" x="181.8" y="995">4.7k</text>
<text class="d" x="146.5" y="996">R5</text><text class="d" x="146.5" y="1003">4.7k</text>
<!-- C11 C12 -->
<text class="pw e" x="129" y="1084.3">GND</text>
<path class="k" d="M136,1074V1088M133.5,1076.5V1085.5M131,1079V1083M136,1081H142.2"/>
<path class="w" d="M142.2,1081H150.4M166.3,1081H325.2M142.2,1081V1073H182M197.7,1073H325.2"/>
<path class="r" d="M150.4,1081H156.4M160.3,1081H166.3M182,1073H188M191.7,1073H197.7"/>
<path class="pl" d="M156.4,1075V1087M160.3,1075V1087M188,1067V1079M191.7,1067V1079"/>
<circle class="j" cx="142.2" cy="1081" r="1.5"/>
<text class="d" x="152" y="1064.5">C12</text><text class="d" x="152" y="1071.5">225</text>
<text class="d" x="183.5" y="1056.5">C11</text><text class="d" x="183.5" y="1063.5">225</text>
<!-- VSS -->
<path class="w" d="M285,1088.9V1147M285,1088.9H325.2M285,1096.8H325.2M285,1104.7H325.2M285,1112.6H325.2M285,1120.6H325.2M285,1128.5H325.2"/>
<circle class="j" cx="285" cy="1096.8" r="1.5"/><circle class="j" cx="285" cy="1104.7" r="1.5"/><circle class="j" cx="285" cy="1112.6" r="1.5"/><circle class="j" cx="285" cy="1120.6" r="1.5"/><circle class="j" cx="285" cy="1128.5" r="1.5"/>
<path class="k" d="M278,1147H292M280.5,1149.5H289.5M283,1152H287"/><text class="pw m" x="285" y="1161.5">GND</text>

<!-- U1 left nets -->
<path class="w" d="M268.7,827.5H325.2M268.7,835.4H325.2M268.7,843.4H325.2M268.7,859.2H325.2M268.7,867.1H325.2M268.7,875H325.2M268.7,883H325.2M268.7,890.9H325.2M268.7,898.8H325.2M268.7,906.7H325.2M268.7,985.9H325.2M268.7,993.8H325.2M268.7,1017.6H325.2M268.7,1025.5H325.2M268.7,1033.4H325.2M268.7,1041.4H325.2M268.7,1049.3H325.2M268.7,1057.2H325.2"/>
<g class="n">
<text x="270.9" y="826">DCMI HSYNC</text><text x="270.9" y="833.9">DAC</text><text x="270.9" y="841.9">DCMI PCLK</text><text x="270.9" y="857.7">DCMI CLK</text><text x="270.9" y="865.6">VBUS</text><text x="270.9" y="873.5">DCMI RST</text><text x="270.9" y="881.5">USB DM</text><text x="270.9" y="889.4">USB DP</text><text x="270.9" y="897.3">SWDIO</text><text x="270.9" y="905.2">SWCLK</text>
<text x="270.9" y="984.4">DCMI D5</text><text x="270.9" y="992.3">DCMI VSYNC</text><text x="270.9" y="1000.3">I2C SCL</text><text x="270.9" y="1008.2">I2C SDA</text><text x="270.9" y="1016.1">I2C2 SCL</text><text x="270.9" y="1024">I2C2 SDA</text><text x="270.9" y="1031.9">SPI2 NSS</text><text x="270.9" y="1039.9">SPI2 SCLK</text><text x="270.9" y="1047.8">SPI2 MISO</text><text x="270.9" y="1055.7">SPI2 MOSI</text>
</g>
<use href="#X" x="324.7" y="795.8"/><use href="#X" x="324.7" y="803.8"/><use href="#X" x="324.7" y="811.7"/><use href="#X" x="324.7" y="819.6"/><use href="#X" x="324.7" y="851.3"/><use href="#X" x="324.7" y="914.6"/><use href="#X" x="324.7" y="938.4"/><use href="#X" x="324.7" y="946.3"/><use href="#X" x="324.7" y="954.2"/><use href="#X" x="324.7" y="962.2"/><use href="#X" x="324.7" y="970.1"/><use href="#X" x="324.7" y="978"/>
<path class="r" d="M325.2,661.2H340.2M325.2,669.1H340.2M325.2,677H340.2M325.2,685H340.2M325.2,692.9H340.2M325.2,700.8H340.2M325.2,724.6H340.2M325.2,732.5H340.2M325.2,748.3H340.2M325.2,756.2H340.2M325.2,772.1H340.2M325.2,780H340.2M325.2,795.8H340.2M325.2,803.8H340.2M325.2,811.7H340.2M325.2,819.6H340.2M325.2,827.5H340.2M325.2,835.4H340.2M325.2,843.4H340.2M325.2,851.3H340.2M325.2,859.2H340.2M325.2,867.1H340.2M325.2,875H340.2M325.2,883H340.2M325.2,890.9H340.2M325.2,898.8H340.2M325.2,906.7H340.2M325.2,914.6H340.2M325.2,938.4H340.2M325.2,946.3H340.2M325.2,954.2H340.2M325.2,962.2H340.2M325.2,970.1H340.2M325.2,978H340.2M325.2,985.9H340.2M325.2,993.8H340.2M325.2,1001.8H340.2M325.2,1009.7H340.2M325.2,1017.6H340.2M325.2,1025.5H340.2M325.2,1033.4H340.2M325.2,1041.4H340.2M325.2,1049.3H340.2M325.2,1057.2H340.2M325.2,1073H340.2M325.2,1081H340.2M325.2,1088.9H340.2M325.2,1096.8H340.2M325.2,1104.7H340.2M325.2,1112.6H340.2M325.2,1120.6H340.2M325.2,1128.5H340.2"/>
<g class="fn">
<text x="332.5" y="659.9">11</text><text x="332.5" y="667.8">27</text><text x="332.5" y="675.7">50</text><text x="332.5" y="683.7">75</text><text x="332.5" y="691.6">100</text><text x="332.5" y="699.5">6</text><text x="332.5" y="723.3">21</text><text x="332.5" y="731.2">20</text><text x="332.5" y="747">14</text><text x="332.5" y="754.9">94</text><text x="332.5" y="770.8">13</text><text x="332.5" y="778.7">12</text><text x="332.5" y="794.5">22</text><text x="332.5" y="802.5">23</text><text x="332.5" y="810.4">24</text><text x="332.5" y="818.3">25</text><text x="332.5" y="826.2">28</text><text x="332.5" y="834.1">29</text><text x="332.5" y="842.1">30</text><text x="332.5" y="850">31</text><text x="332.5" y="857.9">67</text><text x="332.5" y="865.8">68</text><text x="332.5" y="873.7">69</text><text x="332.5" y="881.7">70</text><text x="332.5" y="889.6">71</text><text x="332.5" y="897.5">72</text><text x="332.5" y="905.4">76</text><text x="332.5" y="913.3">77</text><text x="332.5" y="937.1">34</text><text x="332.5" y="945">35</text><text x="332.5" y="952.9">36</text><text x="332.5" y="960.9">89</text><text x="332.5" y="968.8">90</text><text x="332.5" y="976.7">91</text><text x="332.5" y="984.6">92</text><text x="332.5" y="992.5">93</text><text x="332.5" y="1000.5">95</text><text x="332.5" y="1008.4">96</text><text x="332.5" y="1016.3">46</text><text x="332.5" y="1024.2">47</text><text x="332.5" y="1032.1">51</text><text x="332.5" y="1040.1">52</text><text x="332.5" y="1048">53</text><text x="332.5" y="1055.9">54</text><text x="332.5" y="1071.7">48</text><text x="332.5" y="1079.7">73</text><text x="332.5" y="1087.6">10</text><text x="332.5" y="1095.5">26</text><text x="332.5" y="1103.4">74</text><text x="332.5" y="1111.3">99</text><text x="332.5" y="1119.3">49</text><text x="332.5" y="1127.2">19</text>
</g>

<!-- U1 body -->
<rect x="340.2" y="653.3" width="404.1" height="483.1" fill="none" stroke="#c48080" stroke-width="1.2"/>
<text x="340.5" y="650" style="font-size:17px;fill:#8a8a8a">U1</text>
<text class="d" x="537.7" y="643.5">U1</text><text class="d" x="537.7" y="650.5">STM32H743VIT6</text>
<text x="569" y="1151" style="font-size:17px;fill:#8a8a8a">STM32H743VIT6</text>
<g class="f">
<text x="348.3" y="662.9">VDD</text><text x="348.3" y="670.8">VDD</text><text x="348.3" y="678.7">VDD</text><text x="348.3" y="686.7">VDD</text><text x="348.3" y="694.6">VDD</text><text x="348.3" y="702.5">VBAT</text><text x="348.3" y="726.3">VDDA</text><text x="348.3" y="734.2">VREF</text><text x="348.3" y="750">NRST</text><text x="348.3" y="757.9">BOOT0</text><text x="348.3" y="773.8">PH1/OSC_OUT</text><text x="348.3" y="781.7">PH0/OSC_IN</text>
<text x="348.3" y="797.5">PA0/USART2_CTS/UART4_TX/TIM2_CH1_ETR/WKUP/TIM5_CH1/TIM8_ETR</text>
<text x="348.3" y="805.5">PA1/USART2_RTS/UART4_RX/TIM5_CH2/TIMM2_CH2/EVENTOUT</text>
<text x="348.3" y="813.4">PA2/USART2_TX/TIM5_CH3/TIM9_CH1/TIM2_CH3/ETH_MDIO</text>
<text x="348.3" y="821.3">PA3/USART2_RX/TIM5_CH4/TIM9_CH2/TIM2_CH4/OTG_HS_ULPI_D0</text>
<text x="348.3" y="829.2">PA4/SPI1_NSS/SPI3_NSS/USART2_CK/DCMI_HSYNC/OTG_HS_SOF/I2S3_WS</text>
<text x="348.3" y="837.1">PA5/SPI1_SCK/OTG_HS_ULPI_CK/TIM2_CH1_ETR/TIM8_CHIN/ADC12_IN5</text>
<text x="348.3" y="845.1">PA6/SPI1_MISO/TIM8_BKIN/TIM13_CH1/DCMI_PIXCLK/TIM3_CH1/TIM1_BKIN</text>
<text x="348.3" y="853">PA7/SPI1_MOSI/TIM8_CH1N/TIM14_CH1TIM3_CH2</text>
<text x="348.3" y="860.9">PA8/MCO1/USART1_CK/TIM1_CH1/I2C3_SCL/OTG_FS_SOF</text>
<text x="348.3" y="868.8">PA9/USART1_TX/TIM1_CH2/I2C3_SMBA/DCMI_D0/OTG_FS_VBUS</text>
<text x="348.3" y="876.7">PA10/USART1_RX/TIM1_CH3/OTG_FS_ID/DCMI_D1</text>
<text x="348.3" y="884.7">PA11/USART1_CTS/CAN1_RX/TIM1_CH4/OTG_FS_DM</text>
<text x="348.3" y="892.6">PA12/USART1_RTS/CAN1_TX/TIM1_ETR/OTG_FS_DP</text>
<text x="348.3" y="900.5">PA13/JTMS-SWDIO</text>
<text x="348.3" y="908.4">PA14/JTCK-SWCLK</text>
<text x="348.3" y="916.3">PA15/JTDI/SPI3_NSS/I2S3_WS/TIM2_CH1_ETR/SPI1_NSS</text>
<text x="348.3" y="940.1">PB0/TIM3_CH3/TIM8_CH2N/OTG_HS_ULPI_D1/ETH_MII_RXD2/TIM1_CH2N/</text>
<text x="348.3" y="948">PB1/TIM3_CH4/TIM8_CH3N/OTG_HS_ULPI_D2/ETH_MII_RXD3/OTG_HS_INTN/</text>
<text x="348.3" y="955.9">PB2/SAI1_SD_A/SPI3_MOSI/I2S3_SD/QUADSPI_CLK/EVENTOUT</text>
<text x="348.3" y="963.9">PB3/JTDO/TRACESWO/SPI3_SCK/I2S3_CK/TIM2_CH2/SPI1_SCK</text>
<text x="348.3" y="971.8">PB4/NJTRST/SPI3_MISO/TIM3_CH1/SPI1_MISO/I2S3EXT_SD</text>
<text x="348.3" y="979.7">PB5/I2C1_SMBA/TIM3_CH2/SPI1_MOSI/SPI3_MOSI/DCMI_D10/I2S3_SD</text>
<text x="348.3" y="987.6">PB6/I2C1_SCL/TIM4_CH1/CAN2_TX/OTG_FS_INTN/DCMI_D5/USART1_TX</text>
<text x="348.3" y="995.5">PB7/I2C1_SDA/FSMC_NL/DCMI_VSYNC/USART1_RX/TIM4_CH2</text>
<text x="348.3" y="1003.5">PB8/TIM4_CH3/SDIO_D4/TIM10_CH1/DCMI_D6/OTG_FS_SCL/ETH_MII_TXD3</text>
<text x="348.3" y="1011.4">PB9/SPI2_NSS/I2S2_WS/TIM4_CH4/TIM11_CH1/SDIO_D5/DCMI_D7/I2C1_SDA</text>
<text x="348.3" y="1019.3">PB10/SPI2_SCK/I2S2_CK/I2C2_SCL/USART3_TX/OTG_HS_ULPI_D3/TIM2_CH3</text>
<text x="348.3" y="1027.2">PB11/I2C2_SDA/USART3_RX/OTG_HS_ULPI_D4/ETH_RMII_TX_EN/TIM2_CH4</text>
<text x="348.3" y="1035.1">PB12/SPI2_NSS/I2S2_WS/I2C2_SMBA/USART3_CK/TIM1_BKIN/CAN2_RX</text>
<text x="348.3" y="1043.1">PB13/SPI2_SCK/I2S2_CK/USART3_CTS/TIM1_CH1N/CAN2_TX/OTG_HS_ULPI_D6</text>
<text x="348.3" y="1051">PB14/SPI2_MISO/TIM1_CH2N/TIM12_CH1/OTG_HS_DM/USART3_RTS/TIM8_CH2N</text>
<text x="348.3" y="1058.9">PB15/SPI2_MOSI/I2S2_SD/TIM1_CH3N/TIM8_CH3N/TIM12_CH2/OTG_HS_DP</text>
<text x="348.3" y="1074.7">VCAP</text><text x="348.3" y="1082.7">VCAP</text><text x="348.3" y="1090.6">VSS</text><text x="348.3" y="1098.5">VSS</text><text x="348.3" y="1106.4">VSS</text><text x="348.3" y="1114.3">VSS</text><text x="348.3" y="1122.3">VSS</text><text x="348.3" y="1130.2">VSSA</text>
</g>
<g class="fe">
<text x="736.5" y="662.9">PC0/OTG_HS_ULPI_STP/ADC123_IN10</text>
<text x="736.5" y="670.8">PC1/ETH_MDC/ADC123_IN11</text>
<text x="736.5" y="678.7">PC2/SPI2_MISO/OTG_HS_ULPI_DIR/TH_MII_TXD2/I2S2EXT_SD/ADC123_IN12</text>
<text x="736.5" y="686.7">PC3/SPI2_MOSI/I2S2_SD/OTG_HS_ULPI_NXT/ETH_MII_TX_CLK/ADC123_IN13</text>
<text x="736.5" y="694.6">PC4/ETH_RMII_RX_D0/ETH_MII_RX_D0/ADC12_IN14</text>
<text x="736.5" y="702.5">PC5/ETH_RMII_RX_D1/ETH_MII_RX_D1/ADC12_IN15</text>
<text x="736.5" y="710.4">PC6/I2S2_MCK/TIM8_CH1/SDIO_D6/USART6_TX/DCMI_D0/TIM3_CH1</text>
<text x="736.5" y="718.3">PC7/I2S3_MCK/TIM8_CH2/SDIO_D7/USART6_RX/DCMI_D1/TIM3_CH2</text>
<text x="736.5" y="726.3">PC8/TIM8_CH3/SDIO_D0/TIM3_CH3/USART6_CK/DCMI_D2</text>
<text x="736.5" y="734.2">PC9/I2S_CKIN/MCO2/TIM8_CH4/SDIO_D1/I2C3_SDA/DCMI_D3/TIM3_CH4</text>
<text x="736.5" y="742.1">PC10/SPI3_SCK/I2S3_CK/UART4_TX/SDIO_D2/DCMI_D8/USART3_TX</text>
<text x="736.5" y="750">PC11/UART4_RX/SPI3_MISO/SDIO_D3/DCMI_D4/USART3_RX/I2S3EXT_SD</text>
<text x="736.5" y="757.9">PC12/UART5_TX/SDIO_CK/DCMI_D9/SPI3_MOSI/I2S3_SD/USART3_CK</text>
<text x="736.5" y="765.9">PC13/RTC_AF1</text>
<text x="736.5" y="773.8">PC14/OSC32_IN</text>
<text x="736.5" y="781.7">PC15/OSC32_OUT</text>
<text x="736.5" y="797.5">PD0/FSMC_D2/CAN1_RX</text>
<text x="736.5" y="805.5">PD1/FSMC_D3/CAN1_TX</text>
<text x="736.5" y="813.4">PD2/TIM3_ETR/UART5_RXSDIO_CMD/DCMI_D11</text>
<text x="736.5" y="821.3">PD3/FSMC_CLK/USART2_CTS</text>
<text x="736.5" y="829.2">PD4/FSMC_NOE/USART2_RTS</text>
<text x="736.5" y="837.1">PD5/FSMC_NWE/USART2_TX</text>
<text x="736.5" y="845.1">PD6/FSMC_NWAIT/USART2_RX</text>
<text x="736.5" y="853">PD7/USART2_CK/FSMC_NE1/FSMC_NCE2</text>
<text x="736.5" y="860.9">PD8/FSMC_D13/USART3_TX</text>
<text x="736.5" y="868.8">PD9/FSMC_D14/USART3_RX</text>
<text x="736.5" y="876.7">PD10/FSMC_D15/USART3_CK</text>
<text x="736.5" y="884.7">PD11/FSMC_A16/USART3_CTS</text>
<text x="736.5" y="892.6">PD12/FSMC_A17/TIM4_CH1/USART3_RTS</text>
<text x="736.5" y="900.5">PD13/FSMC_A18/TIM4_CH2</text>
<text x="736.5" y="908.4">PD14/FSMC_D0/TIM4_CH3</text>
<text x="736.5" y="916.3">PD15/FSMC_D1/TIM4_CH4</text>
<text x="736.5" y="940.1">PE0/TIM4_ETR/FSMC_NBL0/DCMI_D2</text>
<text x="736.5" y="948">PE1/FSMC_NBL1/DCMI_D3</text>
<text x="736.5" y="955.9">PE2/TRACECLK/FSMC_A23/ETH_MII_TXD3</text>
<text x="736.5" y="963.9">PE3/TRACED0/FSMC_A19</text>
<text x="736.5" y="971.8">PE4/TRACED1/FSMC_A20/DCMI_D4</text>
<text x="736.5" y="979.7">PE5/FSMC_A21/TIM9_CH1/DCMI_D6</text>
<text x="736.5" y="987.6">PE6/FSMC_A22/TIM9_CH2/DCMI_D7</text>
<text x="736.5" y="995.5">PE7/FSMC_D4/TIM1_ETR</text>
<text x="736.5" y="1003.5">PE8/FSMC_D5/TIM1_CH1N</text>
<text x="736.5" y="1011.4">PE9/FSMC_D6/TIM1_CH1</text>
<text x="736.5" y="1019.3">PE10/FSMC_D7/TIM1_CH2N</text>
<text x="736.5" y="1027.2">PE11/FSMC_D8/TIM1_CH2</text>
<text x="736.5" y="1035.1">PE12/FSMC_D9/TIM1_CH3N</text>
<text x="736.5" y="1043.1">PE13/FSMC_D10/TIM1_CH3</text>
<text x="736.5" y="1051">PE14/FSMC_D11/TIM1_CH4</text>
<text x="736.5" y="1058.9">PE15FSMC_D12/TIM1_BKIN</text>
</g>
<!-- U1 right pins -->
<path class="r" d="M744.3,661.2H760M744.3,669.1H760M744.3,677H760M744.3,685H760M744.3,692.9H760M744.3,700.8H760M744.3,708.7H760M744.3,716.6H760M744.3,724.6H760M744.3,732.5H760M744.3,740.4H760M744.3,748.3H760M744.3,756.2H760M744.3,764.2H760M744.3,772.1H760M744.3,780H760M744.3,795.8H760M744.3,803.8H760M744.3,811.7H760M744.3,819.6H760M744.3,827.5H760M744.3,835.4H760M744.3,843.4H760M744.3,851.3H760M744.3,859.2H760M744.3,867.1H760M744.3,875H760M744.3,883H760M744.3,890.9H760M744.3,898.8H760M744.3,906.7H760M744.3,914.6H760M744.3,938.4H760M744.3,946.3H760M744.3,954.2H760M744.3,962.2H760M744.3,970.1H760M744.3,978H760M744.3,985.9H760M744.3,993.8H760M744.3,1001.8H760M744.3,1009.7H760M744.3,1017.6H760M744.3,1025.5H760M744.3,1033.4H760M744.3,1041.4H760M744.3,1049.3H760M744.3,1057.2H760"/>
<path class="w" d="M760,661.2H811.6M760,669.1H811.6M760,677H811.6M760,708.7H811.6M760,716.6H811.6M760,724.6H811.6M760,732.5H811.6M760,740.4H811.6M760,748.3H811.6M760,756.2H811.6M760,795.8H811.6M760,811.7H811.6M760,851.3H811.6M760,890.9H811.6M760,898.8H811.6M760,906.7H811.6M760,938.4H811.6M760,946.3H811.6M760,954.2H811.6M760,970.1H811.6M760,978H811.6M760,985.9H811.6"/>
<use href="#X" x="761" y="685"/><use href="#X" x="761" y="692.9"/><use href="#X" x="761" y="700.8"/><use href="#X" x="761" y="764.2"/><use href="#X" x="761" y="772.1"/><use href="#X" x="761" y="780"/><use href="#X" x="761" y="803.8"/><use href="#X" x="761" y="819.6"/><use href="#X" x="761" y="827.5"/><use href="#X" x="761" y="835.4"/><use href="#X" x="761" y="843.4"/><use href="#X" x="761" y="859.2"/><use href="#X" x="761" y="867.1"/><use href="#X" x="761" y="875"/><use href="#X" x="761" y="883"/><use href="#X" x="761" y="914.6"/><use href="#X" x="761" y="962.2"/><use href="#X" x="761" y="993.8"/><use href="#X" x="761" y="1001.8"/><use href="#X" x="761" y="1009.7"/><use href="#X" x="761" y="1017.6"/><use href="#X" x="761" y="1025.5"/><use href="#X" x="761" y="1033.4"/><use href="#X" x="761" y="1041.4"/><use href="#X" x="761" y="1049.3"/><use href="#X" x="761" y="1057.2"/>
<g class="fn">
<text x="753" y="659.9">15</text><text x="753" y="667.8">16</text><text x="753" y="675.7">17</text><text x="753" y="683.7">18</text><text x="753" y="691.6">33</text><text x="753" y="699.5">34</text><text x="753" y="707.4">63</text><text x="753" y="715.3">64</text><text x="753" y="723.3">65</text><text x="753" y="731.2">66</text><text x="753" y="739.1">78</text><text x="753" y="747">79</text><text x="753" y="754.9">80</text><text x="753" y="762.9">7</text><text x="753" y="770.8">8</text><text x="753" y="778.7">9</text><text x="753" y="794.5">81</text><text x="753" y="802.5">82</text><text x="753" y="810.4">83</text><text x="753" y="818.3">84</text><text x="753" y="826.2">85</text><text x="753" y="834.1">86</text><text x="753" y="842.1">87</text><text x="753" y="850">88</text><text x="753" y="857.9">55</text><text x="753" y="865.8">56</text><text x="753" y="873.7">57</text><text x="753" y="881.7">58</text><text x="753" y="889.6">59</text><text x="753" y="897.5">60</text><text x="753" y="905.4">61</text><text x="753" y="913.3">62</text><text x="753" y="937.1">97</text><text x="753" y="945">98</text><text x="753" y="952.9">1</text><text x="753" y="960.9">2</text><text x="753" y="968.8">3</text><text x="753" y="976.7">4</text><text x="753" y="984.6">5</text><text x="753" y="992.5">37</text><text x="753" y="1000.5">38</text><text x="753" y="1008.4">39</text><text x="753" y="1016.3">40</text><text x="753" y="1024.2">41</text><text x="753" y="1032.1">42</text><text x="753" y="1040.1">43</text><text x="753" y="1048">44</text><text x="753" y="1055.9">45</text>
</g>
<g class="n">
<text x="770" y="659.7">RGB R</text><text x="770" y="667.6">RGB G</text><text x="770" y="675.5">RGB B</text><text x="770" y="707.2">DCMI D0</text><text x="770" y="715.1">DCMI D1</text><text x="770" y="723.1">SDIO D0</text><text x="770" y="731">SDIO D1</text><text x="770" y="738.9">SDIO D2</text><text x="770" y="746.8">SDIO D3</text><text x="770" y="754.7">SDIO CLK</text><text x="770" y="794.3">SDIO CD</text><text x="770" y="810.2">SDIO CMD</text><text x="770" y="849.8">DCMI PWDN</text><text x="770" y="889.4">TIM4 CH1</text><text x="770" y="897.3">TIM4 CH2</text><text x="770" y="905.2">TIM4 CH3</text><text x="770" y="936.9">DCMI D2</text><text x="770" y="944.8">DCMI D3</text><text x="770" y="952.7">LED IR</text><text x="770" y="968.6">DCMI D4</text><text x="770" y="976.5">DCMI D6</text><text x="770" y="984.4">DCMI D7</text>
</g>

<!-- U4 BME280 overlapped -->
<rect class="r" x="285" y="873.7" width="62.9" height="42.3"/>
<text class="d" x="311" y="866.5" style="font-size:7px;fill:#111">BME280</text><text class="d" x="311" y="872" style="font-size:7px;fill:#111">U4</text>
<circle class="j" cx="277" cy="883.5" r="1.5"/><circle class="j" cx="277" cy="891.4" r="1.5"/><circle class="j" cx="277" cy="899.3" r="1.5"/><circle class="j" cx="277" cy="907.2" r="1.5"/>
<path class="r" d="M277,883.5H285M277,899.3H285M277,907.2H285"/>
<path class="k" d="M277,891.4H285M347.9,883.5H352"/>
<path class="r" d="M347.9,891.4H352M347.9,899.3H352M347.9,907.2H352"/>
<text class="rd" x="281" y="882">8</text><text class="bk" x="281" y="890">7</text><text class="rd" x="281" y="898">6</text><text class="ib" x="281" y="906">5</text>
<text class="bk" x="349" y="882">1</text><text class="ib" x="349" y="890">2</text><text class="ib" x="349" y="898">3</text><text class="ib" x="349" y="906">4</text>
<text class="rd" x="288.5" y="886.3">VDD</text><text class="bk" x="288.5" y="894.2">GND</text><text class="rd" x="288.5" y="902.1">VDDIO</text><text class="ib" x="288.5" y="910">SDO</text>
<text class="bk e" x="345" y="886.3">GND</text><text class="ib e" x="345" y="894.2">CSB</text><text class="ib e" x="345" y="902.1">SDI</text><text class="ib e" x="345" y="910">SCK</text>
<use href="#X" x="325" y="914.6"/>
</svg>
</body></html>
